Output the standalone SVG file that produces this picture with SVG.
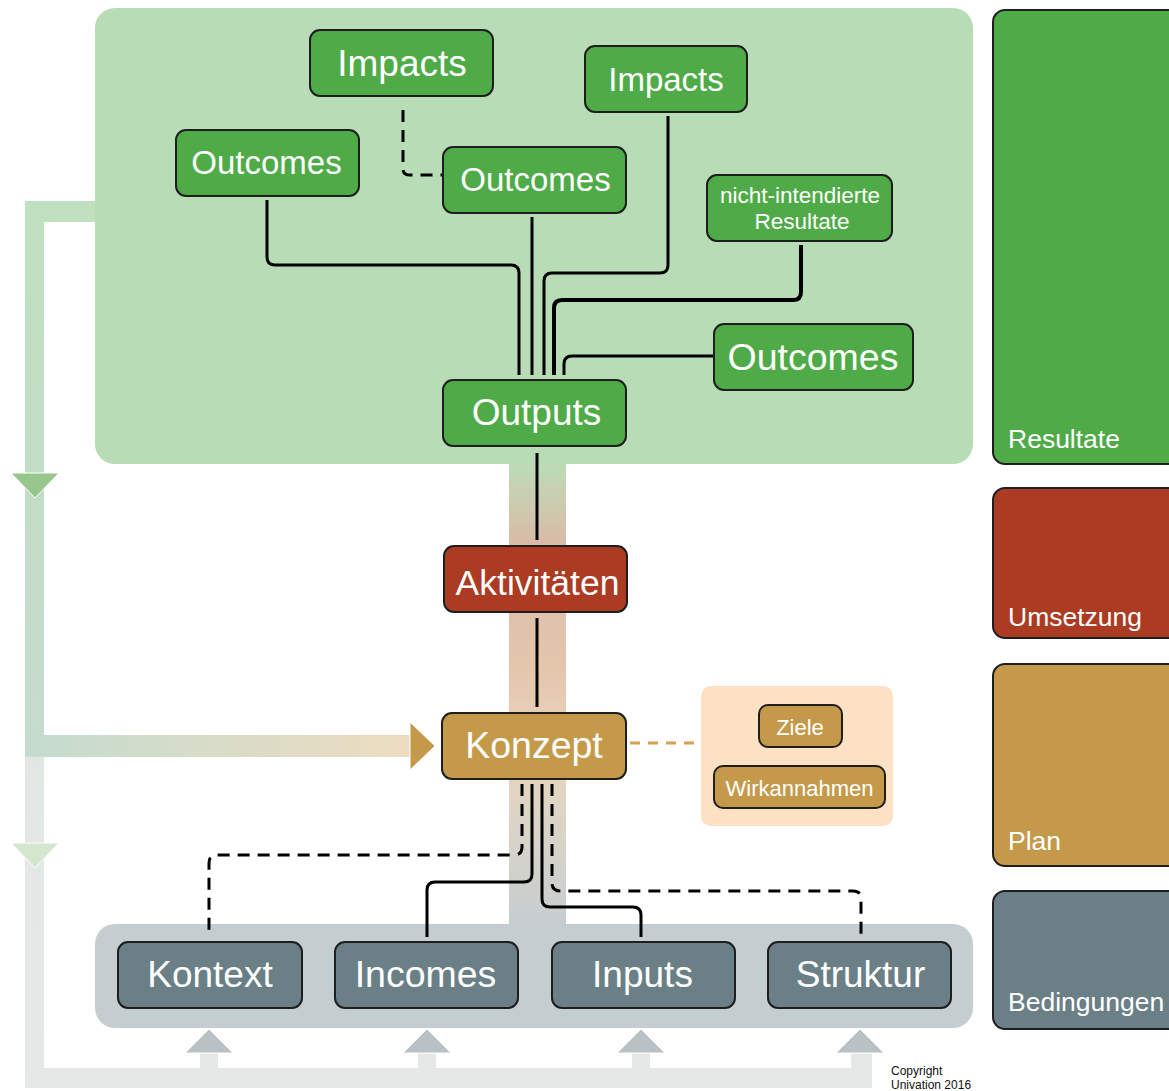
<svg xmlns="http://www.w3.org/2000/svg" width="1169" height="1091" viewBox="0 0 1169 1091">
<defs>
<linearGradient id="gBand" gradientUnits="userSpaceOnUse" x1="0" y1="464" x2="0" y2="924">
<stop offset="0" stop-color="#bcdcb6"/>
<stop offset="0.17" stop-color="#dbbba8"/>
<stop offset="0.45" stop-color="#e4c6ad"/>
<stop offset="0.62" stop-color="#e9d6bc"/>
<stop offset="0.8" stop-color="#d9d4c8"/>
<stop offset="1" stop-color="#c6cdd0"/>
</linearGradient>
<linearGradient id="gLeft" gradientUnits="userSpaceOnUse" x1="0" y1="201" x2="0" y2="757">
<stop offset="0" stop-color="#c0e0bf"/>
<stop offset="1" stop-color="#c5dbcf"/>
</linearGradient>
<linearGradient id="gLeft2" gradientUnits="userSpaceOnUse" x1="0" y1="757" x2="0" y2="1088">
<stop offset="0" stop-color="#e2e7e4"/>
<stop offset="1" stop-color="#e6e8e8"/>
</linearGradient>
<linearGradient id="gHor" gradientUnits="userSpaceOnUse" x1="44" y1="0" x2="410" y2="0">
<stop offset="0" stop-color="#c6dccf"/>
<stop offset="1" stop-color="#eddcc0"/>
</linearGradient>
</defs>
<style>
.node{stroke:#1e1e1e;stroke-width:2}
.g{fill:#4fab48}
.r{fill:#ab3b22}
.o{fill:#c49a4a}
.s{fill:#6a7f86}
.t{font-family:"Liberation Sans",Arial,sans-serif;fill:#ffffff;text-anchor:middle}
.lab{font-family:"Liberation Sans",Arial,sans-serif;fill:#ffffff;font-size:26.5px}
.c{fill:none;stroke:#000;stroke-width:3}
.d{stroke-dasharray:12 8}
</style>

<g id="background">
<rect x="95" y="8" width="878" height="456" rx="20" fill="#b7dcb6"/>
<rect x="509" y="464" width="57" height="460" fill="url(#gBand)"/>
<rect x="95" y="924" width="878" height="104" rx="20" fill="#c4cdd0"/>
<rect x="701" y="686" width="192" height="140" rx="10" fill="#fde1c3"/>
</g>

<g id="loop">
<rect x="25" y="201" width="70" height="21" fill="#c0e0bf"/>
<rect x="25" y="201" width="19" height="556" fill="url(#gLeft)"/>
<rect x="25" y="757" width="19" height="331" fill="url(#gLeft2)"/>
<rect x="44" y="735" width="366" height="22" fill="url(#gHor)"/>
<polygon points="410,722 435,746 410,770" fill="#c49a4a" stroke="#ffffff" stroke-width="1"/>
<polygon points="11,473 59,473 35,498" fill="#98c78d" stroke="#ffffff" stroke-width="1"/>
<polygon points="11,843 59,843 35,868" fill="#d5e7cf" stroke="#ffffff" stroke-width="1"/>
<rect x="25" y="1068" width="847" height="20" fill="#e6e8e8"/>
<rect x="200" y="1053" width="18" height="15" fill="#e6e8e8"/>
<rect x="418" y="1053" width="18" height="15" fill="#e6e8e8"/>
<rect x="632" y="1053" width="18" height="15" fill="#e6e8e8"/>
<rect x="851" y="1053" width="21" height="15" fill="#e6e8e8"/>
<polygon points="185,1053 233,1053 209,1029" fill="#b9c1c4" stroke="#ffffff" stroke-width="1"/>
<polygon points="403,1053 451,1053 427,1029" fill="#b9c1c4" stroke="#ffffff" stroke-width="1"/>
<polygon points="617,1053 665,1053 641,1029" fill="#b9c1c4" stroke="#ffffff" stroke-width="1"/>
<polygon points="836,1053 884,1053 860,1029" fill="#b9c1c4" stroke="#ffffff" stroke-width="1"/>
</g>

<g id="connectors">
<path class="c" d="M267 200 V257 Q267 265 275 265 H511 Q519 265 519 273 V375"/>
<path class="c" d="M532 217 V375"/>
<path class="c" d="M668 116 V265 Q668 273 660 273 H552 Q544 273 544 281 V375"/>
<path class="c" style="stroke-width:4" d="M801 245 V292 Q801 300 793 300 H562 Q554 300 554 308 V375"/>
<path class="c" d="M714 356 H572 Q564 356 564 364 V375"/>
<path class="c d" d="M403 110 V169 Q403 175 409 175 H443"/>
<path class="c" d="M537 453 V540"/>
<path class="c" d="M537 618 V707"/>
<path class="c d" d="M522 784 V847 Q522 855 514 855 H217 Q209 855 209 863 V937"/>
<path class="c" d="M532 784 V874 Q532 882 524 882 H435 Q427 882 427 890 V937"/>
<path class="c" d="M542 784 V899 Q542 907 550 907 H633 Q641 907 641 915 V937"/>
<path class="c d" d="M552 784 V883 Q552 891 560 891 H853 Q861 891 861 899 V937"/>
<path fill="none" stroke="#d9a050" stroke-width="3" stroke-dasharray="10 8" d="M630 743 H701"/>
</g>

<g id="impacts1"><rect class="node g" x="310" y="30" width="183" height="66" rx="10"/><text class="t" x="402" y="76" font-size="37">Impacts</text></g>
<g id="impacts2"><rect class="node g" x="585" y="46" width="162" height="66" rx="10"/><text class="t" x="666" y="91" font-size="33">Impacts</text></g>
<g id="outcomes1"><rect class="node g" x="176" y="130" width="183" height="66" rx="10"/><text class="t" x="266.5" y="174" font-size="33">Outcomes</text></g>
<g id="outcomes2"><rect class="node g" x="443" y="147" width="183" height="66" rx="10"/><text class="t" x="535.5" y="191" font-size="33">Outcomes</text></g>
<g id="nicht-intendierte"><rect class="node g" x="707" y="175" width="185" height="66" rx="10"/><text class="t" x="800" y="203" font-size="22.5">nicht-intendierte</text><text class="t" x="802" y="229" font-size="22.5">Resultate</text></g>
<g id="outcomes3"><rect class="node g" x="714" y="324" width="199" height="66" rx="10"/><text class="t" x="813" y="370" font-size="37.5">Outcomes</text></g>
<g id="outputs"><rect class="node g" x="443" y="380" width="183" height="66" rx="10"/><text class="t" x="536.5" y="425" font-size="37">Outputs</text></g>
<g id="aktivitaeten"><rect class="node r" x="444" y="546" width="183" height="66" rx="10"/><text class="t" x="537.5" y="595" font-size="35.5">Aktivitäten</text></g>
<g id="konzept"><rect class="node o" x="442" y="713" width="184" height="66" rx="10"/><text class="t" x="534" y="758" font-size="37.5">Konzept</text></g>
<g id="ziele"><rect class="node o" x="759" y="705" width="83" height="42" rx="9"/><text class="t" x="800" y="735" font-size="22">Ziele</text></g>
<g id="wirkannahmen"><rect class="node o" x="714" y="766" width="171" height="42" rx="9"/><text class="t" x="799.5" y="796" font-size="22">Wirkannahmen</text></g>
<g id="kontext"><rect class="node s" x="118" y="942" width="184" height="66" rx="10"/><text class="t" x="210" y="987" font-size="37">Kontext</text></g>
<g id="incomes"><rect class="node s" x="335" y="942" width="183" height="66" rx="10"/><text class="t" x="425.5" y="987" font-size="37.5">Incomes</text></g>
<g id="inputs"><rect class="node s" x="552" y="942" width="183" height="66" rx="10"/><text class="t" x="642.5" y="987" font-size="37">Inputs</text></g>
<g id="struktur"><rect class="node s" x="768" y="942" width="183" height="66" rx="10"/><text class="t" x="860.5" y="987" font-size="37">Struktur</text></g>

<g id="resultate"><rect class="node g" x="993" y="10" width="190" height="454" rx="12"/><text class="lab" x="1008" y="448">Resultate</text></g>
<g id="umsetzung"><rect class="node r" x="993" y="488" width="190" height="150" rx="12"/><text class="lab" x="1008" y="626">Umsetzung</text></g>
<g id="plan"><rect class="node o" x="993" y="664" width="190" height="202" rx="12"/><text class="lab" x="1008" y="850">Plan</text></g>
<g id="bedingungen"><rect class="node s" x="993" y="891" width="190" height="138" rx="12"/><text class="lab" x="1008" y="1011">Bedingungen</text></g>

<g id="copyright" font-family="Liberation Sans, Arial, sans-serif" font-size="12" fill="#111">
<text x="891" y="1075">Copyright</text>
<text x="891" y="1089">Univation 2016</text>
</g>
</svg>
